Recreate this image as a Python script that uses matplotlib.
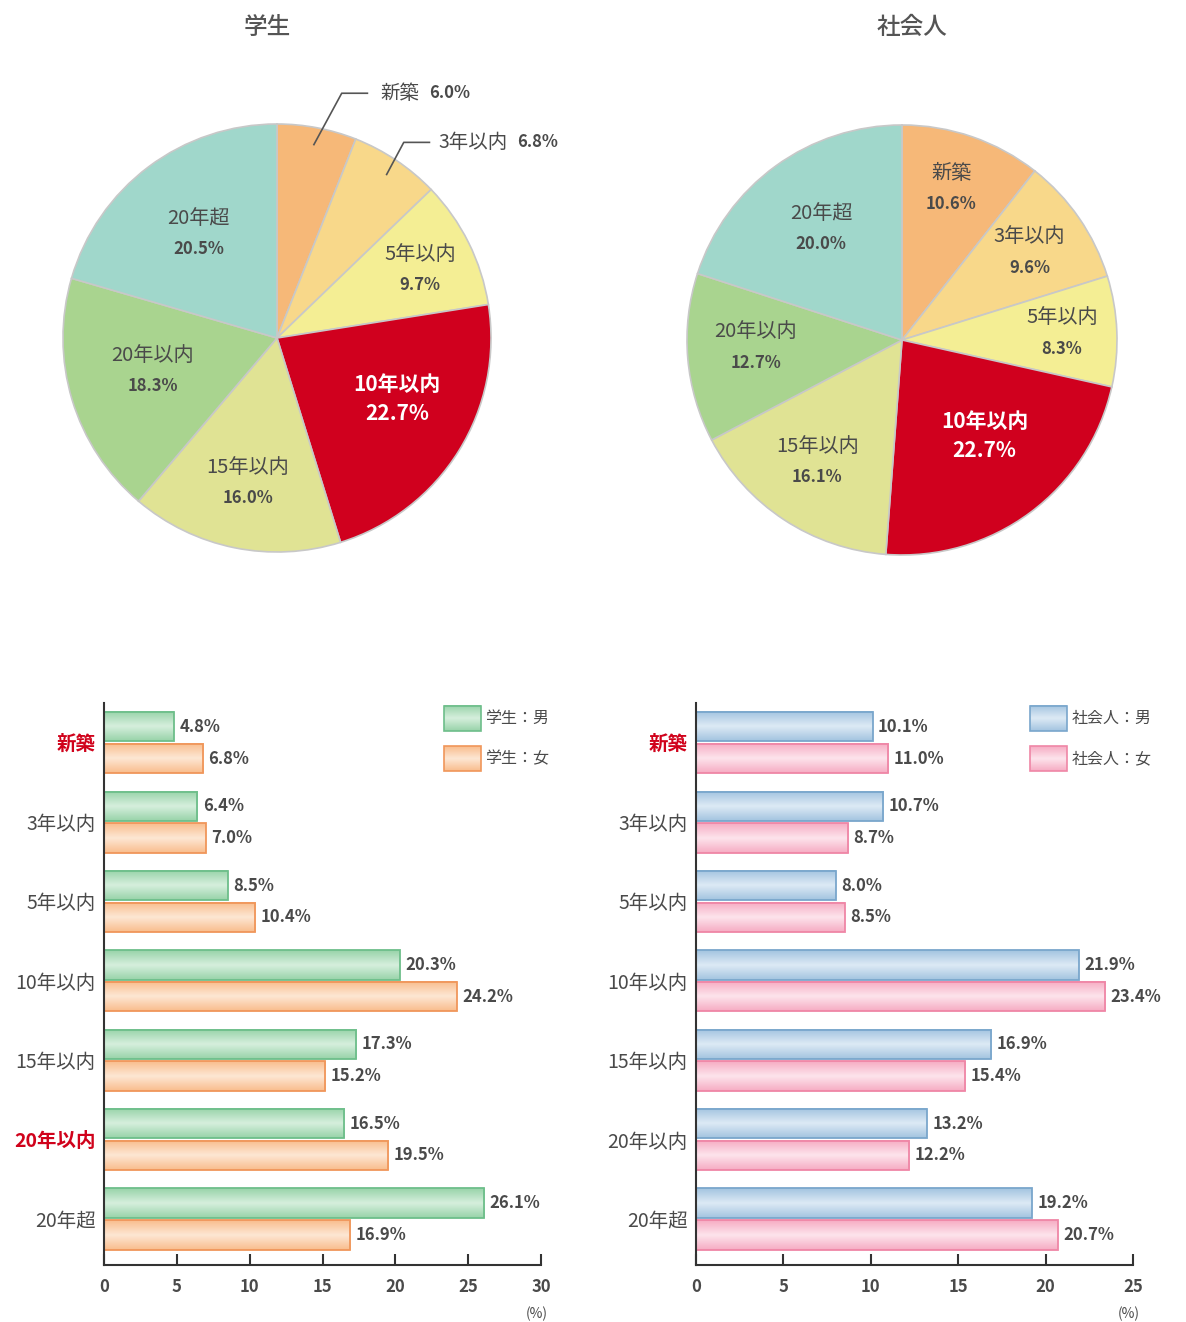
import numpy as np
import matplotlib.pyplot as plt
from matplotlib.colors import LinearSegmentedColormap
from matplotlib.patches import Rectangle

plt.rcParams['font.family'] = ['Noto Sans CJK JP', 'DejaVu Sans']

categories = ['新築', '3年以内', '5年以内', '10年以内', '15年以内', '20年以内', '20年超']

# pie shares (%)
student_share = [6.0, 6.8, 9.7, 22.7, 16.0, 18.3, 20.5]
worker_share = [10.6, 9.6, 8.3, 22.7, 16.1, 12.7, 20.0]

# bar values by gender (%)
student_male = [4.8, 6.4, 8.5, 20.3, 17.3, 16.5, 26.1]
student_female = [6.8, 7.0, 10.4, 24.2, 15.2, 19.5, 16.9]
worker_male = [10.1, 10.7, 8.0, 21.9, 16.9, 13.2, 19.2]
worker_female = [11.0, 8.7, 8.5, 23.4, 15.4, 12.2, 20.7]

PIE_COLORS = ['#F6B878', '#F8D88A', '#F4EE94', '#D0001E', '#E0E394', '#A9D48F', '#A0D7CB']
TXT = '#4a4a4a'
RED = '#D0021B'

# (edge, dark fill, light fill)
GREEN = ('#6DBE8A', '#98D3A9', '#D6EFDD')
ORANGE = ('#F0965A', '#F9BD8D', '#FDE7D4')
BLUE = ('#79A6CC', '#A3C4E0', '#DDEAF5')
PINK = ('#EF86A6', '#F6ACC3', '#FDE4EC')

W, H = 1186, 1322
fig = plt.figure(figsize=(W / 100, H / 100), dpi=100)


def px_axes(cx, cy, r):
    return fig.add_axes([(cx - r) / W, 1 - (cy + r) / H, 2 * r / W, 2 * r / H])


def draw_pie(ax, values, spots, outside=None):
    # spots: (distance from centre, angle shift in degrees) for each inner label
    outside = outside or {}
    wedges, _ = ax.pie(values, colors=PIE_COLORS, startangle=90, counterclock=False,
                       wedgeprops=dict(edgecolor='#c8c8c8', linewidth=1.2))
    ax.set_xlim(-1, 1)
    ax.set_ylim(-1, 1)
    for i, (w, v) in enumerate(zip(wedges, values)):
        mid = (w.theta1 + w.theta2) / 2
        pct = f'{v:.1f}%'
        if i in outside:
            ox, oy, gap = outside[i]
            ang = np.deg2rad(mid)
            sx, sy = 0.92 * np.cos(ang), 0.92 * np.sin(ang)
            ex, ey = sx + ox, sy + oy
            ax.plot([sx, ex, ex + 0.12], [sy, ey, ey], color='#555', lw=1.2, clip_on=False)
            t = ax.text(ex + 0.12 + gap, ey, categories[i], ha='left', va='center',
                        fontsize=14, color=TXT)
            ax.annotate(pct, xy=(1, 0.5), xycoords=t, xytext=(7, 0),
                        textcoords='offset points', va='center', fontsize=12,
                        fontweight='bold', color=TXT)
            continue
        d, shift = spots[i]
        ang = np.deg2rad(mid + shift)
        x, y = d * np.cos(ang), d * np.sin(ang)
        if categories[i] == '10年以内':
            ax.text(x, y + 0.07, categories[i], ha='center', va='center',
                    fontsize=15, fontweight='bold', color='white')
            ax.text(x, y - 0.065, pct, ha='center', va='center',
                    fontsize=15, fontweight='bold', color='white')
        else:
            ax.text(x, y + 0.072, categories[i], ha='center', va='center',
                    fontsize=14.5, color=TXT)
            ax.text(x, y - 0.072, pct, ha='center', va='center',
                    fontsize=12, fontweight='bold', color=TXT)


def gradient(ax, x0, y0, w, h, dark, light, transform=None, z=1.5):
    cmap = LinearSegmentedColormap.from_list('g', [dark, light, dark])
    grad = np.linspace(0, 1, 64).reshape(-1, 1)
    kw = {} if transform is None else {'transform': transform}
    ax.imshow(grad, cmap=cmap, aspect='auto', origin='lower', interpolation='bicubic',
              extent=(x0, x0 + w, y0, y0 + h), zorder=z, **kw)


def draw_bars(ax, male, female, cm, cf, xmax, labels, red, lx):
    y = np.arange(len(categories))
    h = 0.37
    for vals, off, (edge, dark, light) in ((male, -0.2, cm), (female, 0.2, cf)):
        bars = ax.barh(y + off, vals, height=h, facecolor='none', edgecolor=edge,
                       linewidth=1.3, zorder=2)
        for b, v in zip(bars, vals):
            gradient(ax, b.get_x(), b.get_y(), b.get_width(), b.get_height(), dark, light)
            ax.annotate(f'{v:.1f}%', xy=(v, b.get_y() + h / 2), xytext=(4, 0),
                        textcoords='offset points', va='center', ha='left',
                        fontsize=12, fontweight='bold', color=TXT)
    ax.set_xlim(0, xmax)
    ax.set_ylim(6.58, -0.5)
    ax.set_xticks(np.arange(0, xmax + 1, 5))
    ax.set_yticks(y, categories)
    for lab in ax.get_yticklabels():
        if lab.get_text() in red:
            lab.set_color(RED)
            lab.set_fontweight('bold')
        else:
            lab.set_color(TXT)
    ax.tick_params(axis='y', length=0, labelsize=14, pad=6)
    ax.tick_params(axis='x', direction='in', length=8, width=1.5, color='#333',
                   labelsize=12, pad=9, labelcolor=TXT)
    for lab in ax.get_xticklabels():
        lab.set_fontweight('bold')
    for s in ('top', 'right'):
        ax.spines[s].set_visible(False)
    for s in ('left', 'bottom'):
        ax.spines[s].set_color('#333')
        ax.spines[s].set_linewidth(1.5)
    ax.annotate('(%)', xy=(1, 0), xycoords='axes fraction', xytext=(-3, -35),
                textcoords='offset points', ha='center', va='center',
                fontsize=10, color=TXT)
    # legend boxes
    for (edge, dark, light), lab, (y0, y1) in zip((cm, cf), labels,
                                                  ((0.950, 0.995), (0.879, 0.923))):
        gradient(ax, lx, y0, 0.084, y1 - y0, dark, light, transform=ax.transAxes, z=3)
        ax.add_patch(Rectangle((lx, y0), 0.084, y1 - y0, transform=ax.transAxes,
                               facecolor='none', edgecolor=edge, lw=1.2, zorder=4,
                               clip_on=False))
        ax.text(lx + 0.095, (y0 + y1) / 2, lab, transform=ax.transAxes,
                ha='left', va='center', fontsize=11.5, color=TXT)


# pies
ax1 = px_axes(277, 338, 214)
draw_pie(ax1, student_share,
         [None, None, (0.74, -1), (0.63, 4.5), (0.69, 0), (0.6, -2), (0.61, 0)],
         outside={0: (0.13, 0.24, 0.06), 1: (0.08, 0.15, 0.04)})
ax2 = px_axes(902, 340, 215)
draw_pie(ax2, worker_share,
         [(0.74, 1), (0.72, 0), (0.745, 0), (0.59, 4), (0.69, -1.5), (0.68, -2), (0.64, 0)])

fig.text(267 / W, 1 - 27 / H, '学生', ha='center', va='center', fontsize=17,
         color='#555', fontweight='medium')
fig.text(912 / W, 1 - 27 / H, '社会人', ha='center', va='center', fontsize=17,
         color='#555', fontweight='medium')

# bars
bl = fig.add_axes([104 / W, 1 - 1265 / H, 437 / W, 562 / H])
draw_bars(bl, student_male, student_female, GREEN, ORANGE, 30,
          ['学生：男', '学生：女'], ['新築', '20年以内'], 0.778)
br = fig.add_axes([696 / W, 1 - 1265 / H, 437 / W, 562 / H])
draw_bars(br, worker_male, worker_female, BLUE, PINK, 25,
          ['社会人：男', '社会人：女'], ['新築'], 0.764)

fig.savefig('out.png', dpi=100)
